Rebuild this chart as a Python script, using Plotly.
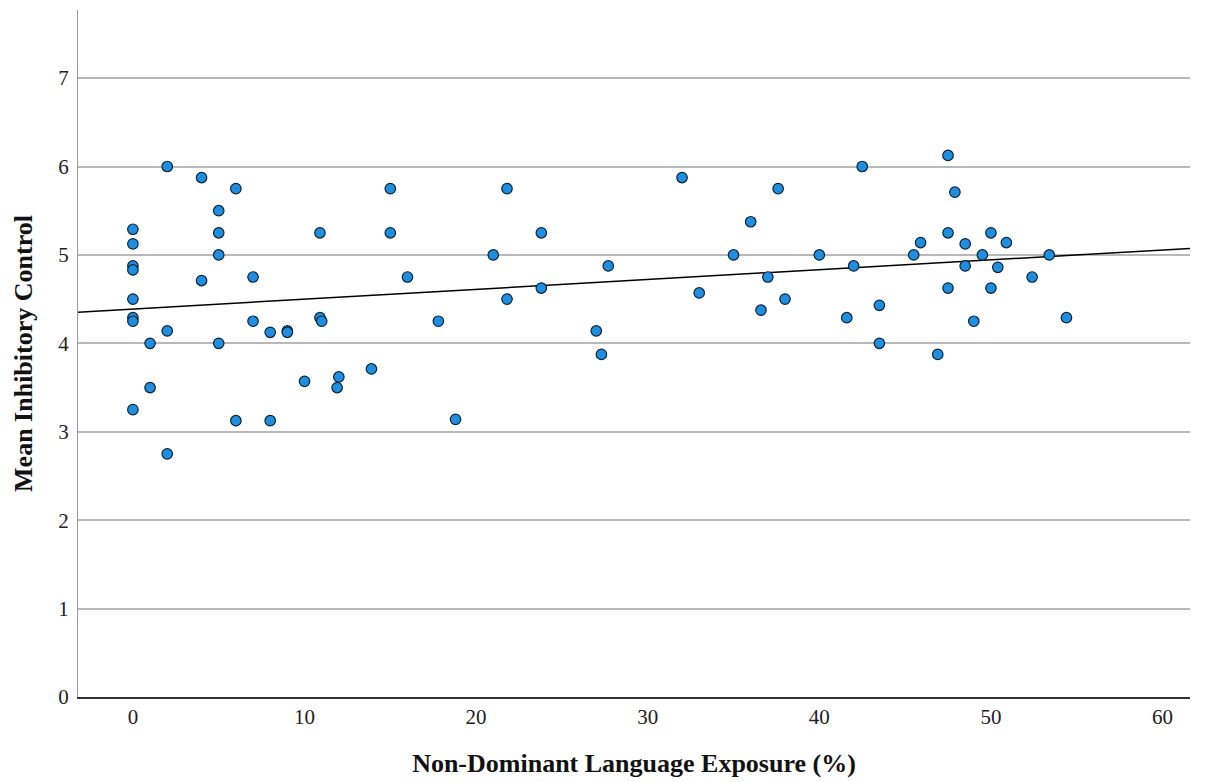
import numpy as np
import plotly.graph_objects as go

exposure = [2.0, 4.0, 6.0, 5.0, 0.0, 5.0, 10.9, 0.0, 5.0, 0.0, 0.0, 4.0, 7.0, 0.0, 0.0, 0.0,
            2.0, 1.0, 5.0, 7.0, 8.0, 9.0, 9.0, 10.9, 11.0, 1.0, 0.0, 6.0, 8.0, 2.0, 10.0,
            12.0, 11.9, 13.9, 15.0, 15.0, 16.0, 17.8, 18.8, 21.0, 21.8, 21.8, 23.8, 23.8,
            27.0, 27.3, 27.7,
            32.0, 33.0, 35.0, 36.0, 36.6, 37.0, 37.6, 38.0, 40.0, 41.6, 42.0, 42.5, 43.5, 43.5,
            47.5, 47.9, 47.5, 45.9, 45.5, 48.5, 50.0, 50.9, 49.5, 53.4, 48.5, 50.4, 52.4,
            47.5, 50.0, 49.0, 54.4, 46.9]
inhibitory = [6.0, 5.875, 5.75, 5.5, 5.29, 5.25, 5.25, 5.125, 5.0, 4.875, 4.83, 4.71, 4.75, 4.5, 4.29, 4.25,
              4.14, 4.0, 4.0, 4.25, 4.125, 4.14, 4.125, 4.29, 4.25, 3.5, 3.25, 3.125, 3.125, 2.75, 3.57,
              3.62, 3.5, 3.71, 5.75, 5.25, 4.75, 4.25, 3.14, 5.0, 5.75, 4.5, 5.25, 4.625,
              4.14, 3.875, 4.875,
              5.875, 4.57, 5.0, 5.375, 4.375, 4.75, 5.75, 4.5, 5.0, 4.29, 4.875, 6.0, 4.43, 4.0,
              6.125, 5.71, 5.25, 5.14, 5.0, 5.125, 5.25, 5.14, 5.0, 5.0, 4.875, 4.86, 4.75,
              4.625, 4.625, 4.25, 4.29, 3.875]

x_range = [-3.2, 61.6]
y_range = [0, 7.77]
x_ticks = [0, 10, 20, 30, 40, 50, 60]
y_ticks = [0, 1, 2, 3, 4, 5, 6, 7]

slope, intercept = np.polyfit(exposure, inhibitory, 1)
fit_x = np.array(x_range)
fit_y = intercept + slope * fit_x

fig = go.Figure()
fig.add_trace(go.Scatter(
    x=fit_x, y=fit_y, mode="lines",
    line=dict(color="black", width=1.5), hoverinfo="skip", showlegend=False))
fig.add_trace(go.Scatter(
    x=exposure, y=inhibitory, mode="markers",
    marker=dict(size=10.5, color="#1E8FE0", line=dict(color="#0d2233", width=1.2)),
    showlegend=False))

font_family = "Liberation Serif, Times New Roman, serif"
fig.update_layout(
    width=1222, height=782,
    margin=dict(l=70, r=40, t=2, b=93),
    paper_bgcolor="white", plot_bgcolor="white",
    font=dict(family=font_family, color="#222222", size=21),
)
fig.update_xaxes(
    range=x_range, tickvals=x_ticks, showgrid=False, zeroline=False, automargin=False,
    showline=True, linecolor="#333333", linewidth=1.5, ticks="",
    tickfont=dict(size=21, family=font_family),
    title=dict(text="<b>Non-Dominant Language Exposure (%)</b>",
               font=dict(size=26, family=font_family, color="#111111"), standoff=26),
)
fig.update_yaxes(
    range=y_range, tickvals=y_ticks, showgrid=True, gridcolor="#b8b8b8", gridwidth=1.5,
    zeroline=False, showline=True, linecolor="#9a9a9a", linewidth=1.2, ticks="",
    automargin=False, ticklabelstandoff=4,
    tickfont=dict(size=21, family=font_family),
    title=dict(text="<b>Mean Inhibitory Control</b>",
               font=dict(size=26, family=font_family, color="#111111"), standoff=18),
)

fig.write_html("out.html")
